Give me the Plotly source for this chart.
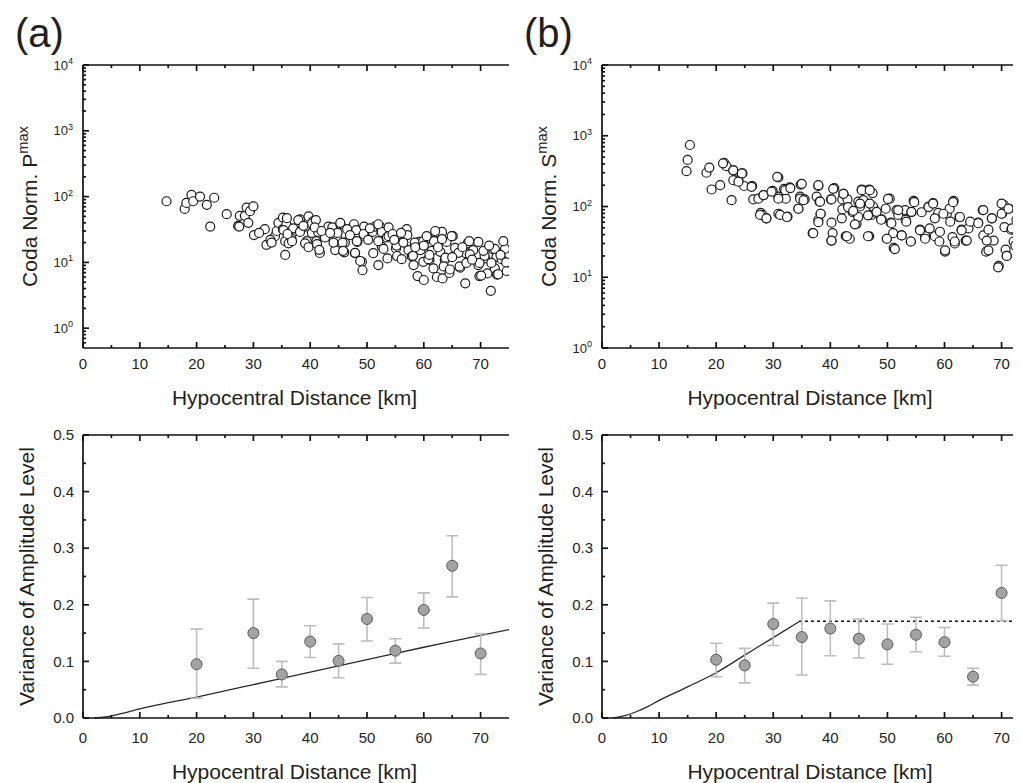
import math
import plotly.graph_objects as go

# ---------------- data ----------------
p_dist = [14.7, 17.9, 18.2, 19.1, 19.4, 20.6, 21.8, 23.1, 22.4, 25.3, 27.3, 27.6, 28.5, 28.8, 29.4, 30.0,
          29.1, 30.1, 32.0, 32.3, 33.8, 34.1, 34.4, 35.2, 35.2, 35.8, 35.6, 36.7, 35.6, 37.6, 38.2, 39.1,
          39.4, 39.7, 40.5, 40.3, 41.1, 41.7, 42.3, 43.2,
          36.2, 36.8, 37.0, 37.9, 38.2, 39.1, 39.7, 40.3, 41.0, 41.2, 41.4, 41.6, 42.6, 35.3, 35.9, 27.5,
          33.0, 31.0,
          43.9, 44.4, 44.7, 45.3, 46.0, 46.1, 47.7, 47.9, 48.1, 48.3, 49.1, 49.2, 49.5, 49.6, 51.0, 51.1,
          51.4, 52.0, 52.3, 52.6, 52.6, 53.5, 53.6, 53.8, 55.1, 55.3, 56.3, 57.0, 57.1, 57.3, 57.9, 58.2,
          58.9, 59.2, 59.4, 60.0, 59.9, 60.8, 61.0, 61.7, 61.8, 62.2, 62.3, 62.9, 63.2, 63.3, 63.7, 64.0,
          64.5, 65.1, 65.8, 66.4, 67.3, 67.4, 67.7, 68.0, 68.7, 69.6, 69.6, 69.8, 70.8, 71.2, 71.8, 72.2,
          72.5, 72.8, 72.9,
          45.3, 44.1, 45.7, 45.8, 48.2, 47.9, 48.8, 49.4, 52.0, 52.0, 52.9, 53.8, 55.2, 56.4, 56.1, 58.1,
          58.4, 59.9, 60.5, 60.8, 61.4, 62.0, 63.2, 63.5, 63.8, 64.6, 64.9, 65.5, 66.1, 66.3, 67.5, 68.1,
          69.8, 70.1, 70.7, 71.9, 72.5, 73.1, 73.7, 74.3, 74.6, 74.0,
          44.8, 46.5, 47.0, 50.2, 50.5, 54.5, 54.8, 56.0, 58.5, 60.0, 61.0, 62.5, 65.0, 66.8, 68.5, 70.5,
          71.5, 73.5, 74.5, 38.8, 40.8, 42.0, 43.5, 36.0, 33.2]
p_amp = [85, 65, 80, 106, 85, 100, 75, 96, 35, 54, 36, 51, 51, 68, 60, 71,
         40, 26, 32, 18.5, 25, 30, 40, 48, 32, 38, 21, 23, 13, 30, 45, 35,
         21, 50, 42, 28, 21, 13.9, 25, 35,
         19.5, 21, 33, 44, 29, 19.5, 17, 39, 44, 19, 29, 15.5, 24, 31, 47, 35,
         22, 28,
         34, 15.4, 24, 38, 14.2, 20, 38, 13.8, 31, 20.5, 10.2, 7.6, 35, 25, 29, 13.8,
         35, 9.1, 35, 29, 17.4, 24, 11.5, 34, 16.3, 12.5, 20.5, 32, 26, 15.4, 12.3, 9.1,
         6.2, 20.5, 15.4, 5.4, 10.2, 23, 10.9, 8.1, 21, 29, 6.0, 14.5, 29, 5.7, 10.9, 20.5,
         6.9, 25, 14.5, 8.3, 4.8, 13.8, 19.5, 21, 15.4, 9.1, 20.5, 6.2, 11.5, 6.8, 3.7, 15.8,
         8.1, 12.1, 6.5,
         40, 20, 20, 15, 21, 14, 10.5, 27, 38, 21, 16, 25, 18, 20, 11.2, 12.6,
         20, 21, 25, 11.2, 15, 30, 22.5, 8.7, 11.8, 7.8, 25, 16.6, 14, 8.7, 9.8, 13.2,
         9.8, 6.3, 12.6, 9.8, 16, 6.6, 11.2, 16, 7.4, 21,
         28, 32, 26, 22, 33, 27, 22, 28, 17, 18, 13, 17, 12, 17, 11, 15,
         18, 13, 10, 36, 34, 30, 28, 27, 20]

s_dist = [15.4, 15.0, 14.8, 18.3, 18.8, 19.2, 20.7, 21.4, 21.8, 22.7, 23.0, 23.2, 23.9, 24.6, 24.9, 26.3,
          26.5, 27.4, 27.8, 28.1, 28.3, 28.8, 29.9, 30.9, 30.9, 30.9, 31.9, 32.2, 32.5, 32.9, 34.4, 34.7,
          34.8, 35.5, 36.9, 37.6, 37.9, 38.1, 38.3, 37.9, 40.1, 40.2, 40.2, 40.4, 40.7, 42.1, 42.1, 42.3,
          42.7, 43.0, 43.4, 43.9, 44.6, 44.9, 45.2, 45.5, 45.8, 46.8, 46.8, 47.2, 47.4, 47.5, 48.0, 49.0,
          49.7, 49.9, 50.4, 50.6, 51.0, 51.1, 51.6, 51.9, 52.5, 53.1, 53.2, 54.1, 54.2, 54.6, 55.7, 56.0,
          56.6, 57.2, 57.4, 58.0, 58.3, 58.9, 59.1, 60.1, 60.4, 60.9, 61.4, 61.6, 61.8, 62.6, 63.0, 63.7,
          64.2, 65.9, 66.7, 66.8, 67.3, 67.7, 68.3, 68.6, 69.5, 70.1, 70.4, 70.5, 70.7, 70.9, 71.3, 71.7,
          72.1, 72.6, 73.0, 73.2, 73.3,
          45.5, 46.9, 45.2, 46.9, 44.9, 46.6, 46.6, 48.1, 48.9, 50.1, 49.9, 50.7, 51.3, 51.9, 52.5, 53.3,
          54.2, 54.1, 54.7, 55.7, 56.6, 57.2, 58.0, 58.3, 59.2, 59.8, 60.1, 61.0, 61.5, 61.8, 62.7, 63.0,
          63.9, 64.5, 65.9, 66.8, 67.4, 67.7, 68.3, 69.4, 70.0, 70.0, 70.9, 71.2, 71.8, 72.4, 73.0, 73.2,
          73.2,
          21.2, 23.0, 24.5, 23.0, 23.9, 26.2, 27.7, 28.8, 28.3, 29.7, 30.9, 30.7, 31.2, 32.4, 32.1, 33.0,
          34.7, 35.0, 34.4, 35.3, 37.0, 37.9, 38.2, 38.3, 37.9, 40.2, 40.5, 40.2, 42.3, 42.0, 42.9, 43.1,
          44.0, 44.3]
s_amp = [740, 455, 316, 300, 355, 174, 200, 415, 372, 123, 325, 235, 235, 293, 195, 195,
         126, 129, 81, 76, 145, 68, 166, 257, 138, 79, 178, 129, 72, 186, 93, 138,
         204, 126, 42, 138, 195, 117, 79, 65, 126, 59, 33, 42, 182, 126, 91, 151,
         38, 126, 35, 83, 57, 117, 100, 174, 123, 174, 38, 76, 155, 100, 81, 66,
         93, 35, 129, 59, 42, 26, 89, 76, 39, 89, 65, 32, 83, 120, 47, 83,
         38, 100, 49, 112, 38, 81, 32, 23, 79, 93, 37, 120, 30, 71, 47, 33,
         49, 59, 89, 39, 23, 47, 68, 33, 14.5, 79, 105, 51, 24.5, 20, 93, 47,
         32, 65, 123, 17.4, 37,
         170, 170, 110, 110, 71, 75, 38, 84, 65, 128, 35, 58, 25, 89, 39, 61,
         84, 32, 115, 46, 35, 98, 110, 68, 44, 79, 24, 61, 115, 32, 71, 46,
         33, 61, 58, 89, 33, 24, 68, 13.8, 110, 79, 20, 93, 49, 28, 71, 135,
         17,
         407, 325, 293, 235, 224, 190, 76, 68, 145, 162, 129, 263, 76, 71, 170, 182,
         129, 209, 93, 123, 42, 200, 117, 79, 60, 33, 178, 126, 151, 68, 38, 98,
         87, 56]

vp_dist = [20, 30, 35, 40, 45, 50, 55, 60, 65, 70]
vp_mean = [0.095, 0.150, 0.077, 0.135, 0.101, 0.175, 0.119, 0.191, 0.269, 0.114]
vp_upper = [0.157, 0.210, 0.100, 0.163, 0.131, 0.213, 0.140, 0.221, 0.322, 0.149]
vp_lower = [0.035, 0.088, 0.055, 0.107, 0.071, 0.136, 0.097, 0.159, 0.214, 0.077]
vp_model_dist = [2, 4, 6, 8, 10, 15, 20, 30, 40, 50, 60, 70, 75]
vp_model_val = [0.0, 0.002, 0.006, 0.011, 0.016, 0.027, 0.037, 0.059, 0.081, 0.103, 0.125, 0.146, 0.156]

vs_dist = [20, 25, 30, 35, 40, 45, 50, 55, 60, 65, 70]
vs_mean = [0.103, 0.093, 0.166, 0.143, 0.158, 0.140, 0.130, 0.147, 0.134, 0.073, 0.221]
vs_upper = [0.132, 0.123, 0.203, 0.212, 0.207, 0.175, 0.166, 0.178, 0.160, 0.088, 0.270]
vs_lower = [0.073, 0.062, 0.128, 0.076, 0.110, 0.106, 0.095, 0.117, 0.109, 0.058, 0.172]
vs_model_dist = [2, 4, 6, 8, 10, 15, 20, 25, 30, 34.5]
vs_model_val = [0.0, 0.004, 0.011, 0.020, 0.031, 0.055, 0.080, 0.111, 0.142, 0.170]
vs_plateau_dist = [34.5, 75]
vs_plateau_val = [0.171, 0.171]

x_ticks = [0, 10, 20, 30, 40, 50, 60, 70]
x_minor = [5, 15, 25, 35, 45, 55, 65]
log_tickvals = [1, 10, 100, 1000, 10000]
log_ticktext = ["10<sup>0</sup>", "10<sup>1</sup>", "10<sup>2</sup>", "10<sup>3</sup>", "10<sup>4</sup>"]
log_minor = [m * 10 ** e for e in range(-1, 4) for m in range(2, 10)]
var_ticks = [0.0, 0.1, 0.2, 0.3, 0.4, 0.5]
var_minor = [0.05, 0.15, 0.25, 0.35, 0.45]

# ---------------- figure ----------------
PAGE_W, PAGE_H = 1021, 783
OFF = 8                      # the page body margin that shifts the figure
W, H = PAGE_W - OFF, PAGE_H - OFF
FONT = "Liberation Sans"
TXT = "#231f20"
AX = "#111111"
PAD = 3  # px of room kept round each frame so its lines stay inside the plot area

# subplot frame boxes in page pixels
LX0, LX1 = 83, 509
RX0, RX1 = 602, 1021
TY0, TY1 = 65, 348
BY0, BY1 = 435, 718

XR_L = [0, 75]
XR_R = [0, 73.4]
YR_PL = [-0.301, 4]
YR_SL = [0, 4]
YR_V = [0, 0.5]


def px(xp):
    return (xp - OFF) / W


def py(yp):
    return 1 - (yp - OFF) / H


def padded_x(x0, x1, rng):
    u = (rng[1] - rng[0]) / (x1 - x0)
    return [px(x0 - PAD), min(1.0, px(x1))], [rng[0] - PAD * u, rng[1]]


def padded_y(y0, y1, rng):
    u = (rng[1] - rng[0]) / (y1 - y0)
    return [py(y1 + PAD), py(y0 - PAD)], [rng[0] - PAD * u, rng[1] + PAD * u]


dxL, rxL = padded_x(LX0, LX1, XR_L)
dxR, rxR = padded_x(RX0, RX1, XR_R)
dyT_P, ryT_P = padded_y(TY0, TY1, YR_PL)
dyT_S, ryT_S = padded_y(TY0, TY1, YR_SL)
dyB, ryB = padded_y(BY0, BY1, YR_V)

fig = go.Figure()


def frame_trace(xa, ya, xr, yr, ylog, wpx, hpx, ymaj, ymin):
    """axis frame and tick marks as a line trace (axis decoration only)"""
    def yv(v):
        return math.log10(v) if ylog else v

    def yout(u):
        return 10 ** u if ylog else u

    ux = (xr[1] - xr[0]) / wpx
    uy = (yr[1] - yr[0]) / hpx
    xs, ys = [], []

    def seg(x0, y0, x1, y1):
        xs.extend([x0, x1, None])
        ys.extend([y0, y1, None])

    b, t = yout(yr[0]), yout(yr[1])
    seg(xr[0], b, xr[1], b)
    seg(xr[0], t, xr[1], t)
    seg(xr[0], b, xr[0], t)
    for v, ln in [(k, 6) for k in x_ticks] + [(k, 3) for k in x_minor]:
        if xr[0] <= v <= xr[1]:
            seg(v, b, v, yout(yr[0] + ln * uy))
            seg(v, t, v, yout(yr[1] - ln * uy))
    for v, ln in [(k, 6) for k in ymaj] + [(k, 3) for k in ymin]:
        u = yv(v)
        if yr[0] <= u <= yr[1]:
            seg(xr[0], v, xr[0] + ln * ux, v)
    return go.Scatter(x=xs, y=ys, mode="lines", line=dict(color=AX, width=1.7),
                      xaxis=xa, yaxis=ya, hoverinfo="skip",
                      showlegend=False, connectgaps=False)


scatter_marker = dict(symbol="circle", size=9, color="white",
                      line=dict(color="#1a1a1a", width=1.2))

fig.add_trace(go.Scatter(x=p_dist, y=p_amp, mode="markers", marker=scatter_marker,
                         xaxis="x", yaxis="y", showlegend=False))
fig.add_trace(go.Scatter(x=s_dist, y=s_amp, mode="markers", marker=scatter_marker,
                         xaxis="x2", yaxis="y2", showlegend=False))


def err(mean, up, lo):
    return dict(type="data", symmetric=False,
                array=[u - m for u, m in zip(up, mean)],
                arrayminus=[m - l for m, l in zip(mean, lo)],
                color="#bdbdbd", thickness=1.6, width=6)


var_marker = dict(symbol="circle", size=11, color="#a3a3a3",
                  line=dict(color="#5a5a5a", width=1))

fig.add_trace(go.Scatter(x=vp_model_dist, y=vp_model_val, mode="lines",
                         line=dict(color="#2a2a2a", width=1.3, shape="spline"),
                         xaxis="x3", yaxis="y3", showlegend=False))
fig.add_trace(go.Scatter(x=vp_dist, y=vp_mean, mode="markers", marker=var_marker,
                         error_y=err(vp_mean, vp_upper, vp_lower),
                         xaxis="x3", yaxis="y3", showlegend=False))

fig.add_trace(go.Scatter(x=vs_model_dist, y=vs_model_val, mode="lines",
                         line=dict(color="#2a2a2a", width=1.3, shape="spline"),
                         xaxis="x4", yaxis="y4", showlegend=False))
fig.add_trace(go.Scatter(x=vs_plateau_dist, y=vs_plateau_val, mode="lines",
                         line=dict(color="#111111", width=1.6, dash="dot"),
                         xaxis="x4", yaxis="y4", showlegend=False))
fig.add_trace(go.Scatter(x=vs_dist, y=vs_mean, mode="markers", marker=var_marker,
                         error_y=err(vs_mean, vs_upper, vs_lower),
                         xaxis="x4", yaxis="y4", showlegend=False))

fig.add_trace(frame_trace("x", "y", XR_L, YR_PL, True, LX1 - LX0, TY1 - TY0, log_tickvals, log_minor))
fig.add_trace(frame_trace("x2", "y2", XR_R, YR_SL, True, RX1 - RX0, TY1 - TY0, log_tickvals, log_minor))
fig.add_trace(frame_trace("x3", "y3", XR_L, YR_V, False, LX1 - LX0, BY1 - BY0, var_ticks, var_minor))
fig.add_trace(frame_trace("x4", "y4", XR_R, YR_V, False, RX1 - RX0, BY1 - BY0, var_ticks, var_minor))


def xaxis(dom, anchor, rng, lab_off, standoff):
    return dict(domain=dom, anchor=anchor, range=rng, automargin=False,
                tickmode="array", tickvals=x_ticks, ticks="",
                showline=False, showgrid=False, zeroline=False,
                tickfont=dict(family=FONT, size=15, color=TXT), ticklabelstandoff=lab_off,
                title=dict(text="Hypocentral Distance [km]",
                           font=dict(family=FONT, size=21, color=TXT), standoff=standoff))


def logyaxis(dom, anchor, rng, title):
    return dict(domain=dom, anchor=anchor, type="log", range=rng, automargin=False,
                tickmode="array", tickvals=log_tickvals, ticktext=log_ticktext, ticks="",
                showline=False, showgrid=False, zeroline=False,
                tickfont=dict(family=FONT, size=13, color=TXT), ticklabelstandoff=6,
                title=dict(text=title, font=dict(family=FONT, size=21, color=TXT), standoff=10))


def varyaxis(dom, anchor):
    return dict(domain=dom, anchor=anchor, range=ryB, automargin=False,
                tickmode="array", tickvals=var_ticks, tickformat=".1f", ticks="",
                showline=False, showgrid=False, zeroline=False,
                tickfont=dict(family=FONT, size=15, color=TXT), ticklabelstandoff=5,
                title=dict(text="Variance of Amplitude Level",
                           font=dict(family=FONT, size=21, color=TXT), standoff=12))


fig.update_layout(
    template="none",
    width=W, height=H,
    margin=dict(l=0, r=0, t=0, b=0, pad=0, autoexpand=False),
    paper_bgcolor="white", plot_bgcolor="white",
    showlegend=False,
    font=dict(family=FONT, color=TXT),
    xaxis=xaxis(dxL, "y", rxL, 2, 19),
    yaxis=logyaxis(dyT_P, "x", ryT_P, "Coda Norm. P<sup>max</sup>"),
    xaxis2=xaxis(dxR, "y2", rxR, 2, 19),
    yaxis2=logyaxis(dyT_S, "x2", ryT_S, "Coda Norm. S<sup>max</sup>"),
    xaxis3=xaxis(dxL, "y3", rxL, 6, 23),
    yaxis3=varyaxis(dyB, "x3"),
    xaxis4=xaxis(dxR, "y4", rxR, 6, 23),
    yaxis4=varyaxis(dyB, "x4"),
    annotations=[
        dict(text="(a)", x=px(39), y=py(33), xref="paper", yref="paper",
             xanchor="center", yanchor="middle", showarrow=False,
             font=dict(family=FONT, size=40, color=TXT)),
        dict(text="(b)", x=px(548), y=py(33), xref="paper", yref="paper",
             xanchor="center", yanchor="middle", showarrow=False,
             font=dict(family=FONT, size=40, color=TXT)),
    ],
)

fig.write_html("out.html")
